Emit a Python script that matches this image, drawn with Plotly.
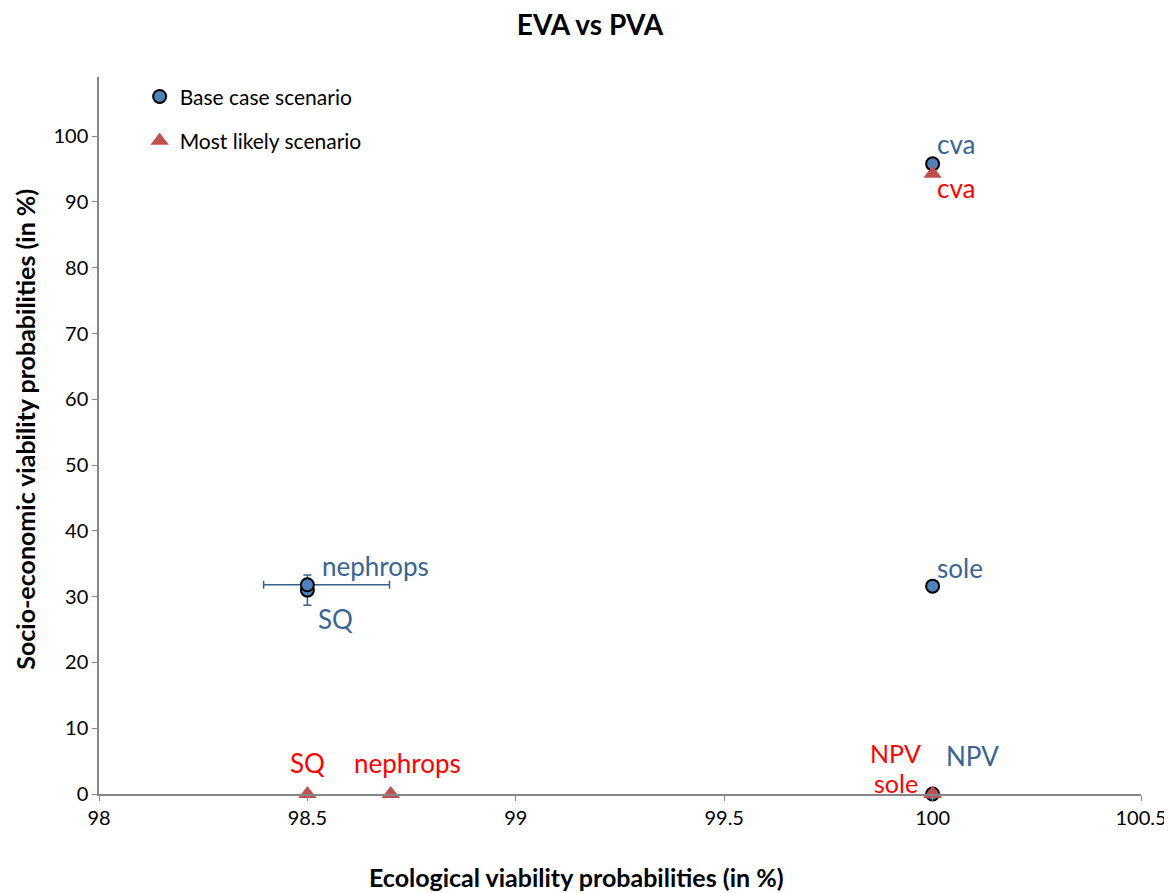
import plotly.graph_objects as go

# Base case scenario (blue circles)
base_names = ["SQ", "nephrops", "cva", "sole", "NPV"]
base_x = [98.5, 98.5, 100.0, 100.0, 100.0]
base_y = [31.0, 31.8, 95.8, 31.6, 0.0]

# error bars (base case)
base_err_y = [2.3, 0, 0, 0, 0]
base_err_x_plus = [0, 0.197, 0, 0, 0]
base_err_x_minus = [0, 0.105, 0, 0, 0]

# Most likely scenario (red triangles)
ml_names = ["SQ", "nephrops", "cva", "sole", "NPV"]
ml_x = [98.5, 98.7, 100.0, 100.0, 100.0]
ml_y = [0.0, 0.0, 94.3, 0.0, 0.0]

# label offsets in pixels (dx, dy) and font sizes
base_label_shift = {"SQ": (28, -29), "nephrops": (68, 19), "cva": (23, 20), "sole": (27, 18), "NPV": (40, 38)}
ml_label_shift = {"SQ": (0, 31), "nephrops": (17, 31), "cva": (23, -14), "sole": (-37, 11), "NPV": (-37, 41)}
ml_label_size = {"SQ": 26, "nephrops": 26, "cva": 26, "sole": 25, "NPV": 25}

FONT = "Lato"
BLUE_TXT = "#3A6496"
RED_TXT = "#FF0000"

fig = go.Figure()
fig.add_trace(go.Scatter(
    x=base_x, y=base_y, mode="markers", name="Base case scenario",
    legendgroup="a", cliponaxis=False,
    marker=dict(symbol="circle", size=13, color="#4F81BD", line=dict(color="black", width=2)),
    error_y=dict(type="data", array=base_err_y, color="#35608F", thickness=1.5, width=4),
    error_x=dict(type="data", array=base_err_x_plus, arrayminus=base_err_x_minus, symmetric=False,
                 color="#35608F", thickness=1.5, width=4),
))
fig.add_trace(go.Scatter(
    x=ml_x, y=ml_y, mode="markers", name="Most likely scenario",
    legendgroup="b", cliponaxis=False,
    marker=dict(symbol="triangle-up", size=16, color="#C0504D"),
))

annotations = []
for n, x, y in zip(base_names, base_x, base_y):
    dx, dy = base_label_shift[n]
    annotations.append(dict(x=x, y=y, xref="x", yref="y", text=n, showarrow=False,
                            xanchor="center", yanchor="middle",
                            xshift=dx, yshift=dy, font=dict(family=FONT, size=26, color=BLUE_TXT)))
for n, x, y in zip(ml_names, ml_x, ml_y):
    dx, dy = ml_label_shift[n]
    annotations.append(dict(x=x, y=y, xref="x", yref="y", text=n, showarrow=False,
                            xanchor="center", yanchor="middle",
                            xshift=dx, yshift=dy, font=dict(family=FONT, size=ml_label_size[n], color=RED_TXT)))

annotations.append(dict(text="<b>Ecological viability probabilities (in %)</b>", xref="paper", yref="paper",
                        x=0.458, y=0, xanchor="center", yanchor="middle", yshift=-83, showarrow=False,
                        font=dict(family=FONT, size=25, color="black")))
annotations.append(dict(text="<b>Socio-economic viability probabilities (in %)</b>", xref="paper", yref="paper",
                        x=0, xshift=-74, y=0.508, xanchor="center", yanchor="middle", textangle=-90,
                        showarrow=False, font=dict(family=FONT, size=25, color="black")))

fig.update_layout(
    width=1164, height=885,
    margin=dict(l=91, r=31, t=69, b=99, autoexpand=False),
    plot_bgcolor="white", paper_bgcolor="white",
    title=dict(text="<b>EVA vs PVA</b>", x=0.5, xanchor="center", y=1 - 17 / 885, yref="container",
               yanchor="middle", font=dict(family=FONT, size=28, color="black")),
    font=dict(family=FONT, size=20, color="black"),
    showlegend=True,
    legend=dict(x=0.039, y=1.001, xanchor="left", yanchor="top", bgcolor="rgba(0,0,0,0)",
                tracegroupgap=14, font=dict(family=FONT, size=21, color="black"),
                itemwidth=30),
    xaxis=dict(range=[98, 100.5], tickvals=[98, 98.5, 99, 99.5, 100, 100.5],
               ticktext=["98", "98.5", "99", "99.5", "100", "100.5"],
               showgrid=False, zeroline=False, showline=True, linecolor="#868686", linewidth=1.5,
               ticks="outside", ticklen=5, tickcolor="#868686", tickfont=dict(family=FONT, size=20)),
    yaxis=dict(range=[0, 109], tickvals=list(range(0, 101, 10)),
               showgrid=False, zeroline=False, showline=True, linecolor="#868686", linewidth=1.5,
               ticks="outside", ticklen=5, tickcolor="#868686", tickfont=dict(family=FONT, size=20)),
    annotations=annotations,
)

fig.write_html("out.html")
